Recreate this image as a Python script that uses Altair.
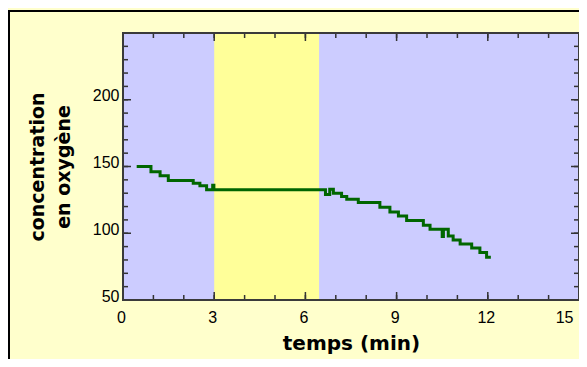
import altair as alt
import pandas as pd

# ---- data ----
times = [0.45, 0.92, 1.22, 1.49, 2.31, 2.53, 2.75, 2.95, 2.99,
         6.66, 6.80, 6.92, 7.19, 7.36, 7.74, 8.45, 8.78, 9.06, 9.33,
         9.88, 10.10, 10.50, 10.54, 10.70, 10.86, 11.09, 11.47, 11.74, 11.96, 12.10]
conc = [150, 146, 143, 139.5, 137.5, 135.5, 132.5, 136, 132.5,
        129, 133, 130, 127.5, 125.5, 123, 119.5, 116, 113, 109.5,
        106, 103, 97.5, 103, 98, 95, 92, 89, 85.5, 82, 82]

band_start = [3.0]
band_end = [6.45]

x_labels = [0, 3, 6, 9, 12, 15]
x_minor = list(range(0, 16))
y_labels = [50, 100, 150, 200]
y_major = [50, 100, 150, 200, 250]
y_minor = list(range(50, 251, 10))

# ---- styling ----
W, H = 456, 267
CREAM = "#FFFFCC"
BLUE = "#CCCCFF"
YELLOW = "#FFFF99"
GREEN = "#006600"
TICK = "#333333"

xs = alt.Scale(domain=[0, 15], nice=False, zero=False)
ys = alt.Scale(domain=[50, 250], nice=False, zero=False)

x_axis = alt.Axis(
    values=x_labels, ticks=False, domain=False, grid=False,
    labelFont="Liberation Sans", labelFontSize=16, labelColor="black",
    labelPadding=9,
    labelAlign={"condition": {"test": "datum.value == 15", "value": "right"}, "value": "center"},
    labelOffset={"condition": {"test": "datum.value == 15", "value": -6}, "value": -2},
    title="temps (min)", titleFont="DejaVu Sans", titleFontSize=20,
    titleFontWeight="bold", titleColor="black", titlePadding=8,
)
y_axis = alt.Axis(
    values=y_labels, ticks=False, domain=False, grid=False,
    labelFont="Liberation Sans", labelFontSize=16, labelColor="black",
    labelPadding=4, labelOffset=-4,
    title=["concentration", "en oxygène"], titleFont="DejaVu Sans",
    titleFontSize=19, titleFontWeight="bold", titleColor="black",
    titlePadding=19, titleLineHeight=26,
)

line_df = pd.DataFrame({"t": times, "c": conc})
band_df = pd.DataFrame({"a": band_start, "b": band_end})

band = alt.Chart(band_df).mark_rect(color=YELLOW).encode(
    x=alt.X("a:Q", scale=xs, axis=x_axis),
    x2="b:Q",
)

line = alt.Chart(line_df).mark_line(
    interpolate="step-after", color=GREEN, strokeWidth=3
).encode(
    x=alt.X("t:Q", scale=xs, axis=x_axis),
    y=alt.Y("c:Q", scale=ys, axis=y_axis),
)

def xticks(vals, size):
    d = pd.DataFrame({"v": vals})
    bottom = alt.Chart(d).mark_rule(color=TICK, strokeWidth=1.5).encode(
        x=alt.X("v:Q", scale=xs, axis=x_axis), y=alt.value(H), y2=alt.value(H - size))
    top = alt.Chart(d).mark_rule(color=TICK, strokeWidth=1.5).encode(
        x=alt.X("v:Q", scale=xs, axis=x_axis), y=alt.value(0), y2=alt.value(size))
    return [bottom, top]

def yticks(vals, size):
    d = pd.DataFrame({"v": vals})
    left = alt.Chart(d).mark_rule(color=TICK, strokeWidth=1.5).encode(
        y=alt.Y("v:Q", scale=ys, axis=y_axis), x=alt.value(0), x2=alt.value(size))
    right = alt.Chart(d).mark_rule(color=TICK, strokeWidth=1.5).encode(
        y=alt.Y("v:Q", scale=ys, axis=y_axis), x=alt.value(W), x2=alt.value(W - size))
    return [left, right]

one = pd.DataFrame({"k": [0]})
frame = alt.Chart(one).mark_rect(fill=None, stroke="#3a3a3a", strokeWidth=2).encode(
    x=alt.value(0), x2=alt.value(W), y=alt.value(0), y2=alt.value(H))
outer = alt.Chart(one).mark_rect(fill=None, stroke="black", strokeWidth=2).encode(
    x=alt.value(-114), x2=alt.value(W + 40), y=alt.value(-22), y2=alt.value(H + 120))

layers = [band, line] + xticks(x_minor, 5) + xticks(x_labels, 8) \
    + yticks(y_minor, 5) + yticks(y_major, 8) + [frame, outer]

chart = alt.layer(*layers).properties(
    width=W, height=H,
    background=CREAM,
    padding={"left": 115, "top": 25, "right": 0, "bottom": 59},
    autosize=alt.AutoSizeParams(type="none"),
).configure_view(fill=BLUE, stroke=None)

chart.save("out.html", embed_options={"renderer": "svg", "actions": False})
